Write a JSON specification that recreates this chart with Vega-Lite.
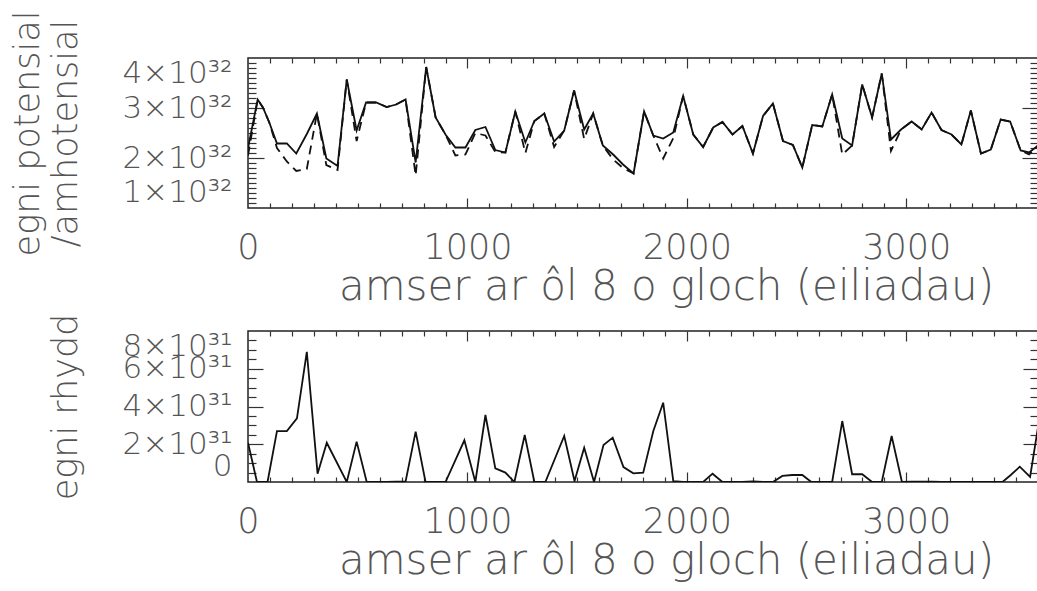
{
  "$schema": "https://vega.github.io/schema/vega-lite/v6.json",
  "background": "white",
  "padding": {"left": 9, "top": 9, "right": 0, "bottom": 0},
  "bounds": "flush",
  "spacing": 123,
  "config": {
    "view": {"stroke": "#222", "strokeWidth": 1.5},
    "axis": {
      "grid": false,
      "domain": false,
      "labelFont": "DejaVu Sans",
      "titleFont": "DejaVu Sans",
      "labelFontWeight": 200,
      "titleFontWeight": 200,
      "labelColor": "#555",
      "titleColor": "#555",
      "tickColor": "#333",
      "tickWidth": 1.2,
      "labelOverlap": false
    }
  },
  "datasets": {
    "pot": [
      {"t": 0, "s": 2.20e32, "d": 2.05e32},
      {"t": 44, "s": 3.17e32, "d": 3.17e32},
      {"t": 68, "s": 3.01e32, "d": 3.01e32},
      {"t": 97, "s": 2.71e32, "d": 2.71e32},
      {"t": 132, "s": 2.29e32, "d": 2.20e32},
      {"t": 177, "s": 2.29e32, "d": 1.93e32},
      {"t": 220, "s": 2.09e32, "d": 1.74e32},
      {"t": 268, "s": 2.48e32, "d": 1.78e32},
      {"t": 314, "s": 2.89e32, "d": 2.89e32},
      {"t": 357, "s": 1.99e32, "d": 1.86e32},
      {"t": 408, "s": 1.84e32, "d": 1.76e32},
      {"t": 450, "s": 3.57e32, "d": 3.57e32},
      {"t": 495, "s": 2.55e32, "d": 2.34e32},
      {"t": 538, "s": 3.11e32, "d": 3.11e32},
      {"t": 584, "s": 3.11e32, "d": 3.11e32},
      {"t": 632, "s": 3.02e32, "d": 3.02e32},
      {"t": 675, "s": 3.07e32, "d": 3.07e32},
      {"t": 718, "s": 3.17e32, "d": 3.17e32},
      {"t": 764, "s": 1.91e32, "d": 1.65e32},
      {"t": 812, "s": 3.82e32, "d": 3.82e32},
      {"t": 855, "s": 2.81e32, "d": 2.81e32},
      {"t": 900, "s": 2.47e32, "d": 2.47e32},
      {"t": 945, "s": 2.21e32, "d": 2.05e32},
      {"t": 991, "s": 2.21e32, "d": 2.07e32},
      {"t": 1036, "s": 2.56e32, "d": 2.50e32},
      {"t": 1082, "s": 2.62e32, "d": 2.45e32},
      {"t": 1127, "s": 2.16e32, "d": 2.12e32},
      {"t": 1173, "s": 2.11e32, "d": 2.11e32},
      {"t": 1218, "s": 2.93e32, "d": 2.93e32},
      {"t": 1264, "s": 2.31e32, "d": 2.10e32},
      {"t": 1305, "s": 2.74e32, "d": 2.74e32},
      {"t": 1350, "s": 2.89e32, "d": 2.89e32},
      {"t": 1395, "s": 2.33e32, "d": 2.22e32},
      {"t": 1441, "s": 2.55e32, "d": 2.55e32},
      {"t": 1486, "s": 3.35e32, "d": 3.35e32},
      {"t": 1532, "s": 2.57e32, "d": 2.38e32},
      {"t": 1573, "s": 2.89e32, "d": 2.89e32},
      {"t": 1617, "s": 2.25e32, "d": 2.25e32},
      {"t": 1664, "s": 2.07e32, "d": 1.97e32},
      {"t": 1709, "s": 1.87e32, "d": 1.80e32},
      {"t": 1757, "s": 1.69e32, "d": 1.69e32},
      {"t": 1805, "s": 2.93e32, "d": 2.93e32},
      {"t": 1847, "s": 2.45e32, "d": 2.45e32},
      {"t": 1892, "s": 2.39e32, "d": 1.99e32},
      {"t": 1938, "s": 2.51e32, "d": 2.40e32},
      {"t": 1983, "s": 3.24e32, "d": 3.24e32},
      {"t": 2029, "s": 2.47e32, "d": 2.47e32},
      {"t": 2074, "s": 2.22e32, "d": 2.22e32},
      {"t": 2120, "s": 2.61e32, "d": 2.61e32},
      {"t": 2162, "s": 2.72e32, "d": 2.72e32},
      {"t": 2208, "s": 2.47e32, "d": 2.47e32},
      {"t": 2253, "s": 2.64e32, "d": 2.64e32},
      {"t": 2301, "s": 2.09e32, "d": 2.09e32},
      {"t": 2347, "s": 2.84e32, "d": 2.84e32},
      {"t": 2392, "s": 3.09e32, "d": 3.09e32},
      {"t": 2438, "s": 2.34e32, "d": 2.34e32},
      {"t": 2483, "s": 2.26e32, "d": 2.26e32},
      {"t": 2526, "s": 1.81e32, "d": 1.81e32},
      {"t": 2571, "s": 2.66e32, "d": 2.66e32},
      {"t": 2617, "s": 2.63e32, "d": 2.63e32},
      {"t": 2662, "s": 3.27e32, "d": 3.27e32},
      {"t": 2708, "s": 2.39e32, "d": 2.07e32},
      {"t": 2753, "s": 2.25e32, "d": 2.25e32},
      {"t": 2799, "s": 3.47e32, "d": 3.47e32},
      {"t": 2844, "s": 2.81e32, "d": 2.81e32},
      {"t": 2888, "s": 3.69e32, "d": 3.69e32},
      {"t": 2930, "s": 2.37e32, "d": 2.14e32},
      {"t": 2976, "s": 2.57e32, "d": 2.57e32},
      {"t": 3024, "s": 2.73e32, "d": 2.73e32},
      {"t": 3070, "s": 2.57e32, "d": 2.57e32},
      {"t": 3115, "s": 2.91e32, "d": 2.91e32},
      {"t": 3160, "s": 2.56e32, "d": 2.56e32},
      {"t": 3206, "s": 2.47e32, "d": 2.47e32},
      {"t": 3251, "s": 2.27e32, "d": 2.27e32},
      {"t": 3294, "s": 2.95e32, "d": 2.95e32},
      {"t": 3340, "s": 2.09e32, "d": 2.09e32},
      {"t": 3385, "s": 2.17e32, "d": 2.17e32},
      {"t": 3430, "s": 2.77e32, "d": 2.77e32},
      {"t": 3473, "s": 2.73e32, "d": 2.73e32},
      {"t": 3521, "s": 2.15e32, "d": 2.15e32},
      {"t": 3559, "s": 2.11e32, "d": 2.07e32},
      {"t": 3600, "s": 2.25e32, "d": 2.25e32}
    ],
    "rhydd": [
      {"t": 0, "r": 2.08e31},
      {"t": 41, "r": 0},
      {"t": 89, "r": 0},
      {"t": 132, "r": 2.70e31},
      {"t": 177, "r": 2.70e31},
      {"t": 223, "r": 3.37e31},
      {"t": 268, "r": 6.90e31},
      {"t": 317, "r": 0.44e31},
      {"t": 359, "r": 2.08e31},
      {"t": 450, "r": 0},
      {"t": 495, "r": 2.14e31},
      {"t": 541, "r": 0},
      {"t": 584, "r": 0},
      {"t": 632, "r": 0},
      {"t": 675, "r": 0.02e31},
      {"t": 718, "r": 0.02e31},
      {"t": 764, "r": 2.67e31},
      {"t": 809, "r": 0},
      {"t": 855, "r": 0},
      {"t": 900, "r": 0},
      {"t": 986, "r": 2.21e31},
      {"t": 1036, "r": 0},
      {"t": 1082, "r": 3.55e31},
      {"t": 1127, "r": 0.72e31},
      {"t": 1173, "r": 0.50e31},
      {"t": 1214, "r": 0},
      {"t": 1261, "r": 2.49e31},
      {"t": 1305, "r": 0},
      {"t": 1355, "r": 0},
      {"t": 1441, "r": 2.44e31},
      {"t": 1488, "r": 0.05e31},
      {"t": 1532, "r": 1.82e31},
      {"t": 1577, "r": 0},
      {"t": 1620, "r": 1.96e31},
      {"t": 1662, "r": 2.35e31},
      {"t": 1711, "r": 0.79e31},
      {"t": 1756, "r": 0.46e31},
      {"t": 1801, "r": 0.49e31},
      {"t": 1847, "r": 2.70e31},
      {"t": 1892, "r": 4.20e31},
      {"t": 1938, "r": 0.05e31},
      {"t": 1983, "r": 0},
      {"t": 2029, "r": 0},
      {"t": 2074, "r": 0},
      {"t": 2117, "r": 0.44e31},
      {"t": 2162, "r": 0},
      {"t": 2208, "r": 0},
      {"t": 2253, "r": 0},
      {"t": 2301, "r": 0.03e31},
      {"t": 2347, "r": 0},
      {"t": 2392, "r": 0},
      {"t": 2435, "r": 0.32e31},
      {"t": 2480, "r": 0.37e31},
      {"t": 2526, "r": 0.37e31},
      {"t": 2567, "r": 0},
      {"t": 2617, "r": 0},
      {"t": 2662, "r": 0},
      {"t": 2708, "r": 3.23e31},
      {"t": 2753, "r": 0.41e31},
      {"t": 2799, "r": 0.41e31},
      {"t": 2844, "r": 0},
      {"t": 2888, "r": 0},
      {"t": 2933, "r": 2.44e31},
      {"t": 2980, "r": 0},
      {"t": 3024, "r": 0.02e31},
      {"t": 3070, "r": 0.02e31},
      {"t": 3115, "r": 0.02e31},
      {"t": 3160, "r": 0},
      {"t": 3206, "r": 0},
      {"t": 3251, "r": 0},
      {"t": 3294, "r": 0},
      {"t": 3340, "r": 0},
      {"t": 3385, "r": 0},
      {"t": 3438, "r": 0},
      {"t": 3476, "r": 0.37e31},
      {"t": 3517, "r": 0.81e31},
      {"t": 3564, "r": 0.27e31},
      {"t": 3600, "r": 2.90e31}
    ]
  },
  "vconcat": [
    {
      "width": 790,
      "height": 150,
      "data": {"name": "pot"},
      "resolve": {"axis": {"x": "independent", "y": "independent"}},
      "layer": [
        {
          "mark": {"type": "line", "color": "#111", "strokeWidth": 1.8, "strokeDash": [9, 6], "clip": true},
          "encoding": {
            "x": {"field": "t", "type": "quantitative",
              "scale": {"domain": [0, 3600], "nice": false, "zero": false},
              "axis": {"orient": "bottom", "values": [0, 1000, 2000, 3000], "format": "d", "ticks": false,
                "labelFontSize": 35, "labelPadding": 22, "labelAngle": 0, "labelFlush": false,
                "title": "amser ar ôl 8 o gloch (eiliadau)", "titleFontSize": 42, "titlePadding": 1,
                "titleX": 418, "titleAlign": "center"}},
            "y": {"field": "d", "type": "quantitative",
              "scale": {"domain": [1e32, 4e32], "nice": false, "zero": false},
              "axis": {"orient": "left", "values": [1e32, 2e32, 3e32, 4e32], "ticks": false,
                "labelExpr": "format(datum.value / 1e32, 'd') + '×10³²'",
                "labelFontSize": 31, "labelPadding": 16, "labelFlush": true,
                "minExtent": 136, "maxExtent": 136,
                "title": ["egni potensial", "/amhotensial"], "titleFontSize": 35, "titleLineHeight": 38,
                "titlePadding": 29}}
          }
        },
        {
          "mark": {"type": "line", "color": "#111", "strokeWidth": 1.8, "clip": true},
          "encoding": {
            "x": {"field": "t", "type": "quantitative",
              "axis": {"orient": "bottom", "values": [1000, 2000, 3000], "labels": false, "title": null, "tickSize": -10}},
            "y": {"field": "s", "type": "quantitative",
              "axis": {"orient": "left", "values": [2e32, 3e32], "labels": false, "title": null, "tickSize": -16}}
          }
        },
        {
          "mark": {"type": "line", "opacity": 0},
          "encoding": {
            "x": {"field": "t", "type": "quantitative",
              "axis": {"orient": "bottom", "values": [100, 200, 300, 400, 500, 600, 700, 800, 900, 1100, 1200, 1300, 1400, 1500, 1600, 1700, 1800, 1900, 2100, 2200, 2300, 2400, 2500, 2600, 2700, 2800, 2900, 3100, 3200, 3300, 3400, 3500], "labels": false, "title": null, "tickSize": -5}},
            "y": {"field": "s", "type": "quantitative",
              "axis": {"orient": "left", "values": [1.1e32, 1.2e32, 1.3e32, 1.4e32, 1.5e32, 1.6e32, 1.7e32, 1.8e32, 1.9e32, 2.1e32, 2.2e32, 2.3e32, 2.4e32, 2.5e32, 2.6e32, 2.7e32, 2.8e32, 2.9e32, 3.1e32, 3.2e32, 3.3e32, 3.4e32, 3.5e32, 3.6e32, 3.7e32, 3.8e32, 3.9e32], "labels": false, "title": null, "tickSize": -8}}
          }
        },
        {
          "mark": {"type": "line", "opacity": 0},
          "encoding": {
            "x": {"field": "t", "type": "quantitative",
              "axis": {"orient": "top", "values": [1000, 2000, 3000], "labels": false, "title": null, "tickSize": -10}},
            "y": {"field": "s", "type": "quantitative",
              "axis": {"orient": "right", "values": [2e32, 3e32], "labels": false, "title": null, "tickSize": -16}}
          }
        },
        {
          "mark": {"type": "line", "opacity": 0},
          "encoding": {
            "x": {"field": "t", "type": "quantitative",
              "axis": {"orient": "top", "values": [100, 200, 300, 400, 500, 600, 700, 800, 900, 1100, 1200, 1300, 1400, 1500, 1600, 1700, 1800, 1900, 2100, 2200, 2300, 2400, 2500, 2600, 2700, 2800, 2900, 3100, 3200, 3300, 3400, 3500], "labels": false, "title": null, "tickSize": -5}},
            "y": {"field": "s", "type": "quantitative",
              "axis": {"orient": "right", "values": [1.1e32, 1.2e32, 1.3e32, 1.4e32, 1.5e32, 1.6e32, 1.7e32, 1.8e32, 1.9e32, 2.1e32, 2.2e32, 2.3e32, 2.4e32, 2.5e32, 2.6e32, 2.7e32, 2.8e32, 2.9e32, 3.1e32, 3.2e32, 3.3e32, 3.4e32, 3.5e32, 3.6e32, 3.7e32, 3.8e32, 3.9e32], "labels": false, "title": null, "tickSize": -8}}
          }
        }
      ]
    },
    {
      "width": 790,
      "height": 151,
      "data": {"name": "rhydd"},
      "resolve": {"axis": {"x": "independent", "y": "independent"}},
      "layer": [
        {
          "mark": {"type": "line", "color": "#111", "strokeWidth": 1.8, "clip": true},
          "encoding": {
            "x": {"field": "t", "type": "quantitative",
              "scale": {"domain": [0, 3600], "nice": false, "zero": false},
              "axis": {"orient": "bottom", "values": [0, 1000, 2000, 3000], "format": "d", "ticks": false,
                "labelFontSize": 35, "labelPadding": 22, "labelAngle": 0, "labelFlush": false,
                "title": "amser ar ôl 8 o gloch (eiliadau)", "titleFontSize": 42, "titlePadding": 1,
                "titleX": 418, "titleAlign": "center"}},
            "y": {"field": "r", "type": "quantitative",
              "scale": {"domain": [0, 8e31], "nice": false, "zero": false},
              "axis": {"orient": "left", "values": [0, 2e31, 4e31, 6e31, 8e31], "ticks": false,
                "labelExpr": "datum.value == 0 ? '0' : format(datum.value / 1e31, 'd') + '×10³¹'",
                "labelFontSize": 31, "labelPadding": 16, "labelFlush": true,
                "minExtent": 136, "maxExtent": 136,
                "title": "egni rhydd", "titleFontSize": 35, "titlePadding": 29}}
          }
        },
        {
          "mark": {"type": "line", "opacity": 0},
          "encoding": {
            "x": {"field": "t", "type": "quantitative",
              "axis": {"orient": "bottom", "values": [1000, 2000, 3000], "labels": false, "title": null, "tickSize": -10}},
            "y": {"field": "r", "type": "quantitative",
              "axis": {"orient": "left", "values": [2e31, 4e31, 6e31], "labels": false, "title": null, "tickSize": -15}}
          }
        },
        {
          "mark": {"type": "line", "opacity": 0},
          "encoding": {
            "x": {"field": "t", "type": "quantitative",
              "axis": {"orient": "bottom", "values": [100, 200, 300, 400, 500, 600, 700, 800, 900, 1100, 1200, 1300, 1400, 1500, 1600, 1700, 1800, 1900, 2100, 2200, 2300, 2400, 2500, 2600, 2700, 2800, 2900, 3100, 3200, 3300, 3400, 3500], "labels": false, "title": null, "tickSize": -5}},
            "y": {"field": "r", "type": "quantitative",
              "axis": {"orient": "left", "values": [5e30, 1e31, 1.5e31, 2.5e31, 3e31, 3.5e31, 4.5e31, 5e31, 5.5e31, 6.5e31, 7e31, 7.5e31], "labels": false, "title": null, "tickSize": -8}}
          }
        },
        {
          "mark": {"type": "line", "opacity": 0},
          "encoding": {
            "x": {"field": "t", "type": "quantitative",
              "axis": {"orient": "top", "values": [1000, 2000, 3000], "labels": false, "title": null, "tickSize": -10}},
            "y": {"field": "r", "type": "quantitative",
              "axis": {"orient": "right", "values": [2e31, 4e31, 6e31], "labels": false, "title": null, "tickSize": -15}}
          }
        },
        {
          "mark": {"type": "line", "opacity": 0},
          "encoding": {
            "x": {"field": "t", "type": "quantitative",
              "axis": {"orient": "top", "values": [100, 200, 300, 400, 500, 600, 700, 800, 900, 1100, 1200, 1300, 1400, 1500, 1600, 1700, 1800, 1900, 2100, 2200, 2300, 2400, 2500, 2600, 2700, 2800, 2900, 3100, 3200, 3300, 3400, 3500], "labels": false, "title": null, "tickSize": -5}},
            "y": {"field": "r", "type": "quantitative",
              "axis": {"orient": "right", "values": [5e30, 1e31, 1.5e31, 2.5e31, 3e31, 3.5e31, 4.5e31, 5e31, 5.5e31, 6.5e31, 7e31, 7.5e31], "labels": false, "title": null, "tickSize": -8}}
          }
        }
      ]
    }
  ]
}
